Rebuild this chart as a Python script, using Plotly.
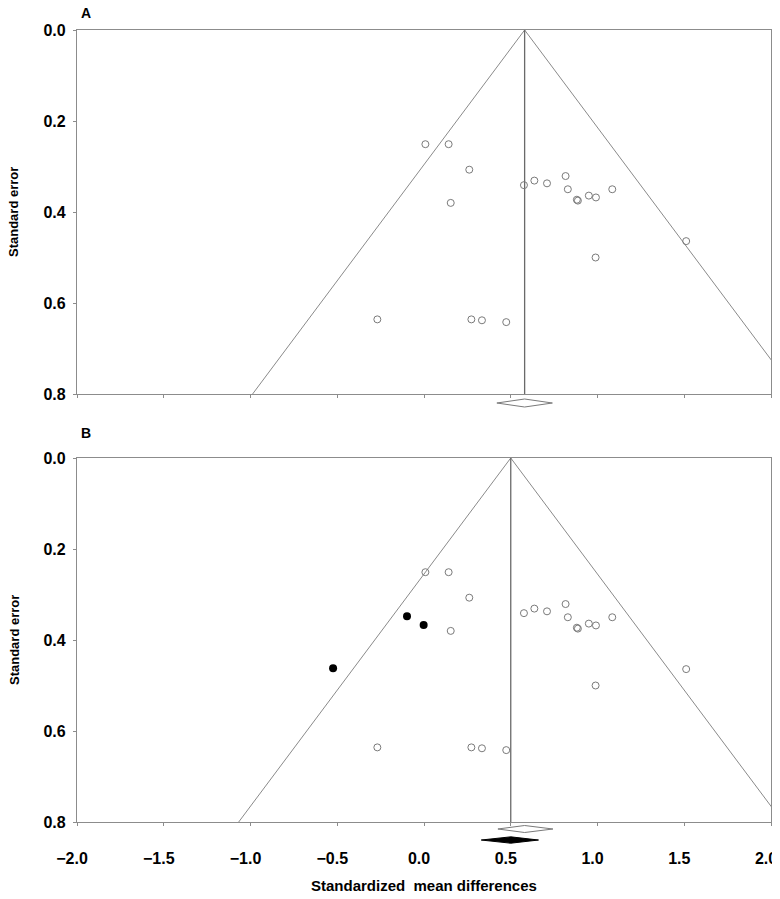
import plotly.graph_objects as go

# ---------------- data ----------------
# observed studies (same in both panels)
smd = [0.008, 0.142, 0.261, 0.154, 0.576, 0.636, 0.709, 0.816, 0.829, 0.881,
       0.887, 0.950, 0.991, 1.085, 1.511, 0.989, -0.269, 0.273, 0.334, 0.474]
se = [0.251, 0.251, 0.307, 0.380, 0.341, 0.331, 0.337, 0.321, 0.350, 0.373,
      0.375, 0.364, 0.368, 0.350, 0.464, 0.500, 0.636, 0.636, 0.638, 0.642]
# imputed studies (trim and fill, panel B)
imp_smd = [-0.098, -0.002, -0.524]
imp_se = [0.348, 0.367, 0.462]

# pooled estimates
est_obs = 0.58
ci_obs = [0.42, 0.74]
est_adj = 0.50
ci_adj = [0.33, 0.66]

x_ticks = [-2.0, -1.5, -1.0, -0.5, 0.0, 0.5, 1.0, 1.5, 2.0]
y_ticks = [0.0, 0.2, 0.4, 0.6, 0.8]
se_max = 0.8
z = 1.96

# ---------------- figure ----------------
GRAY = "#7a7a7a"
LINE = "#8a8a8a"
FONT = "Liberation Sans"

fig = go.Figure()


def funnel(center, xa, ya):
    # left and right pseudo-confidence limits + vertical line at pooled estimate
    fig.add_trace(go.Scatter(
        x=[center - z * se_max, center, center + z * se_max],
        y=[se_max, 0.0, se_max],
        mode="lines", line=dict(color=LINE, width=1),
        xaxis=xa, yaxis=ya, hoverinfo="skip", showlegend=False))
    fig.add_trace(go.Scatter(
        x=[center, center], y=[0.0, se_max],
        mode="lines", line=dict(color="#6a6a6a", width=1.3),
        xaxis=xa, yaxis=ya, hoverinfo="skip", showlegend=False))


def diamond(center, lo, hi, yc, hh, xa, ya, filled):
    fig.add_trace(go.Scatter(
        x=[lo, center, hi, center, lo],
        y=[yc, yc - hh, yc, yc + hh, yc],
        mode="lines", fill="toself",
        fillcolor="black" if filled else "white",
        line=dict(color="black" if filled else GRAY, width=1),
        xaxis=xa, yaxis=ya, hoverinfo="skip", showlegend=False))


# Panel A
funnel(est_obs, "x", "y")
fig.add_trace(go.Scatter(
    x=smd, y=se, mode="markers",
    marker=dict(symbol="circle-open", size=7, color=GRAY, line=dict(width=1)),
    xaxis="x", yaxis="y", showlegend=False))
diamond(est_obs, ci_obs[0], ci_obs[1], 0.8198, 0.0088, "x", "y3", False)

# Panel B
funnel(est_adj, "x2", "y2")
fig.add_trace(go.Scatter(
    x=smd, y=se, mode="markers",
    marker=dict(symbol="circle-open", size=7, color=GRAY, line=dict(width=1)),
    xaxis="x2", yaxis="y2", showlegend=False))
fig.add_trace(go.Scatter(
    x=imp_smd, y=imp_se, mode="markers",
    marker=dict(symbol="circle", size=8, color="black"),
    xaxis="x2", yaxis="y2", showlegend=False))
diamond(est_obs, 0.426, 0.743, 0.8154, 0.0077, "x2", "y4", False)
diamond(est_adj, ci_adj[0], ci_adj[1], 0.8396, 0.0070, "x2", "y4", True)

# ---------------- layout ----------------
# the page body adds an 8px offset; positions below are screen pixels
W, H = 772, 891
T, B = 22, 49
PH = H - T - B  # 820


def py(p):
    return (850 - p) / PH


def px(p):
    return (p - 77) / 694


axis_common = dict(showline=True, linecolor="#8c8c8c", linewidth=1.2, mirror=True,
                   showgrid=False, zeroline=False, ticks="outside", ticklen=3,
                   tickcolor="#8c8c8c", automargin=False,
                   tickfont=dict(family=FONT, size=16, color="black", weight="bold"))

xa = dict(axis_common, range=[-2, 2], tickvals=x_ticks, tickformat=".1f",
          ticklabeloverflow="allow")
ya = dict(axis_common, range=[se_max, 0], tickvals=y_ticks, tickformat=".1f",
          ticklabelstandoff=4)

fig.update_layout(
    width=W, height=H,
    margin=dict(l=69, r=9, t=T, b=B, autoexpand=False),
    plot_bgcolor="white", paper_bgcolor="white",
    xaxis=dict(xa, anchor="y", domain=[0, 1], showticklabels=False),
    yaxis=dict(ya, anchor="x", domain=[py(394), 1.0]),
    xaxis2=dict(xa, anchor="y2", domain=[0, 1], ticklabelstandoff=19,
                ticklabelshift=-5),
    yaxis2=dict(ya, anchor="x2", domain=[py(822), py(458)]),
    yaxis3=dict(anchor="x", domain=[py(420), py(394)], range=[0.8 + 26 / 455, 0.8],
                visible=False, automargin=False),
    yaxis4=dict(anchor="x2", domain=[0, py(822)], range=[0.8 + 28 / 455, 0.8],
                visible=False, automargin=False),
    showlegend=False,
)

ann_font = dict(family=FONT, size=14, color="black", weight="bold")
common = dict(xref="paper", yref="paper", showarrow=False,
              xanchor="center", yanchor="middle")
annotations = [
    dict(common, text="A", x=px(86), y=py(13), font=ann_font),
    dict(common, text="B", x=px(86), y=py(433), font=ann_font),
    dict(common, text="Standard error", x=px(14), y=py(212), textangle=-90,
         font=dict(ann_font, size=13)),
    dict(common, text="Standard error", x=px(14), y=py(640), textangle=-90,
         font=dict(ann_font, size=13)),
    dict(common, text="Standardized\u00a0 mean differences", x=0.5, y=py(885),
         font=dict(ann_font, size=15)),
]
fig.update_layout(annotations=annotations)

fig.write_html("out.html")
